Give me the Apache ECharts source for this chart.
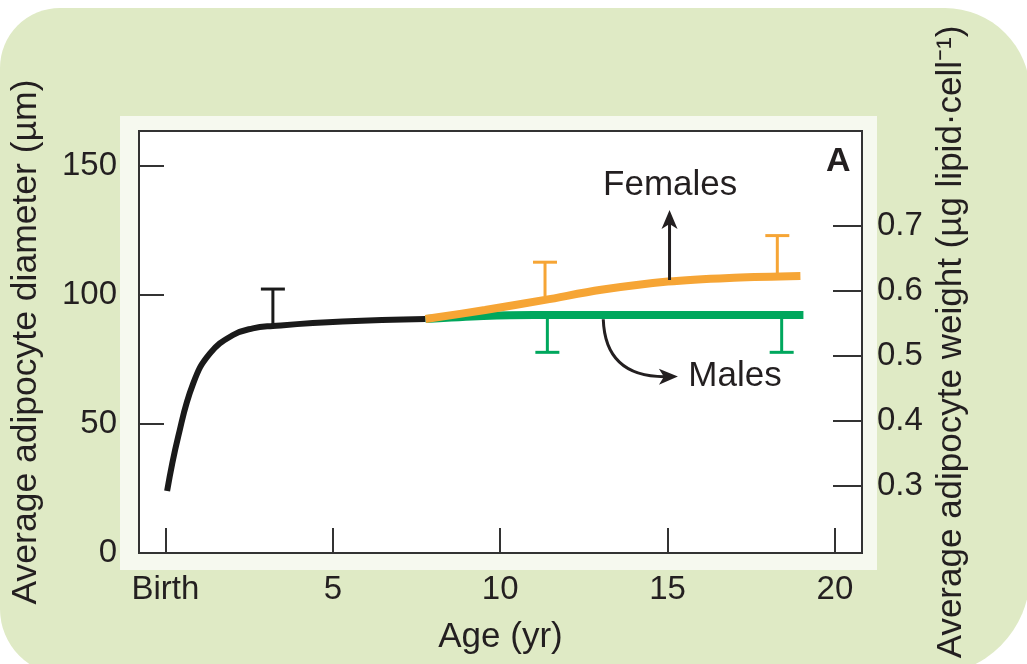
<!DOCTYPE html>
<html>
<head>
<meta charset="utf-8">
<script src="https://cdn.jsdelivr.net/npm/echarts@6/dist/echarts.min.js"></script>
<style>
html,body{margin:0;padding:0;background:#fff;}
#chart{width:1027px;height:664px;}
</style>
</head>
<body>
<div id="chart"></div>
<script>
// ---- data ----
const xTicks = [0, 5, 10, 15, 20];
const xTickLabels = ['Birth', '5', '10', '15', '20'];
const leftTicks = [0, 50, 100, 150];
const rightTicks = [0.3, 0.4, 0.5, 0.6, 0.7];

// shared curve: birth to ~8 yr  [age, diameter]
const commonCurve = [[0.05, 24], [0.38, 45], [0.83, 65.7], [1.33, 77.3], [2.02, 84.4], [2.61, 87], [3.21, 87.9], [5.29, 89.6], [7.77, 90.6]];
const femalesCurve = [[7.77, 90.6], [9.55, 94.1], [11.34, 98], [13.02, 101.9], [15.01, 105.1], [16.99, 106.6], [18.97, 107.3]];
const malesCurve = [[7.77, 90.6], [9.5, 91.8], [11, 92.2], [15, 92.2], [19.06, 92.2]];

// error bars [age, from, to]
const commonErr = [[3.21, 87.9, 102.2]];
const femalesErr = [[11.34, 98, 112.6], [18.28, 107.1, 122.9]];
const malesErr = [[11.41, 92.2, 77.7], [18.41, 92.2, 77.7]];

// annotation arrows [x1, y1, ctrlX, ctrlY, x2, y2]
const femalesArrow = [15.06, 105.7, 15.06, 119, 15.06, 132.8];
const malesArrow = [13.08, 90.5, 13.14, 68.2, 15.31, 68.3];

// annotation texts [age, diameter, text]
const textMarks = [[15.08, 142.5, 'Females'], [15.62, 68.3, 'Males'], [20.1, 151.4, 'A']];

const INK = '#231f20';
const ORANGE = '#f6a535';
const GREEN = '#00a75d';
const FONT = '"Liberation Sans", Arial, Helvetica, sans-serif';

function errRender(color) {
  return function (params, api) {
    const p1 = api.coord([api.value(0), api.value(1)]);
    const p2 = api.coord([api.value(0), api.value(2)]);
    const hw = 12;
    return {
      type: 'group',
      children: [
        {type: 'line', shape: {x1: p1[0], y1: p1[1], x2: p2[0], y2: p2[1]}, style: {stroke: color, lineWidth: 3}},
        {type: 'line', shape: {x1: p2[0] - hw, y1: p2[1], x2: p2[0] + hw, y2: p2[1]}, style: {stroke: color, lineWidth: 3}}
      ]
    };
  };
}

function arrowRender(params, api) {
  const p0 = api.coord([api.value(0), api.value(1)]);
  const c = api.coord([api.value(2), api.value(3)]);
  const p2 = api.coord([api.value(4), api.value(5)]);
  let dx = p2[0] - c[0], dy = p2[1] - c[1];
  const len = Math.sqrt(dx * dx + dy * dy) || 1;
  dx /= len; dy /= len;
  const L = 19, W = 16;
  const px = -dy, py = dx;
  const bx = p2[0] - dx * L, by = p2[1] - dy * L;
  const nx = p2[0] - dx * (L - 5), ny = p2[1] - dy * (L - 5);
  const ex = p2[0] - dx * (L - 6), ey = p2[1] - dy * (L - 6);
  return {
    type: 'group',
    children: [
      {type: 'bezierCurve', shape: {x1: p0[0], y1: p0[1], cpx1: c[0], cpy1: c[1], x2: ex, y2: ey}, style: {stroke: INK, lineWidth: 3, fill: null}},
      {type: 'polygon', shape: {points: [[p2[0], p2[1]], [bx + px * W / 2, by + py * W / 2], [nx, ny], [bx - px * W / 2, by - py * W / 2]]}, style: {fill: INK}}
    ]
  };
}

function textRender(params, api) {
  const p = api.coord([api.value(0), api.value(1)]);
  const i = params.dataIndex;
  const txt = textMarks[i][2];
  const isPanel = txt === 'A';
  return {
    type: 'text', x: p[0], y: p[1],
    style: {
      text: txt, fill: INK, fontFamily: FONT,
      fontSize: isPanel ? 34 : 35, fontWeight: isPanel ? 'bold' : 'normal',
      align: txt === 'Males' ? 'left' : 'center', verticalAlign: 'middle'
    }
  };
}

const chart = echarts.init(document.getElementById('chart'), null, {renderer: 'canvas'});
chart.setOption({
  animation: false,
  textStyle: {fontFamily: FONT, color: INK},
  graphic: [
    {type: 'rect', z: -100, shape: {x: 0, y: 8, width: 1030, height: 667, r: [60, 85, 100, 66]}, style: {fill: '#dfeac5'}},
    {type: 'rect', z: -99, shape: {x: 120, y: 116, width: 757, height: 454}, style: {fill: '#f6f9ef'}}
  ],
  grid: {left: 136, right: 165, top: 131, bottom: 111, show: true, backgroundColor: '#ffffff', borderColor: '#333', borderWidth: 2},
  xAxis: {
    type: 'value', min: -0.79, max: 20.81,
    name: 'Age (yr)', nameLocation: 'middle', nameGap: 67,
    nameTextStyle: {fontSize: 35, color: INK, fontFamily: FONT},
    axisLine: {show: true, onZero: false, lineStyle: {color: '#333', width: 2}},
    axisTick: {show: true, inside: true, length: 25, customValues: xTicks, lineStyle: {color: '#333', width: 2}},
    axisLabel: {customValues: xTicks, fontSize: 33, color: INK, margin: 20, formatter: function (v) { return xTickLabels[xTicks.indexOf(v)]; }},
    splitLine: {show: false}
  },
  yAxis: [
    {
      type: 'value', min: 0, max: 163.4, position: 'left',
      name: 'Average adipocyte diameter (µm)', nameLocation: 'middle', nameGap: 95, nameRotate: 90,
      nameTextStyle: {fontSize: 35.5, color: INK, fontFamily: FONT},
      axisLine: {show: true, onZero: false, lineStyle: {color: '#333', width: 2}},
      axisTick: {show: true, inside: true, length: 25, customValues: leftTicks.slice(1), lineStyle: {color: '#333', width: 2}},
      axisLabel: {customValues: leftTicks, fontSize: 33, color: INK, margin: 22},
      splitLine: {show: false}
    },
    {
      type: 'value', min: 0.197, max: 0.845, position: 'right',
      name: 'Average adipocyte weight (µg lipid·cell⁻¹)', nameLocation: 'middle', nameGap: 70, nameRotate: 90,
      nameTextStyle: {fontSize: 35, color: INK, fontFamily: FONT},
      axisLine: {show: true, onZero: false, lineStyle: {color: '#333', width: 2}},
      axisTick: {show: true, inside: true, length: 29, customValues: rightTicks, lineStyle: {color: '#333', width: 2}},
      axisLabel: {customValues: rightTicks, fontSize: 33, color: INK, margin: 15, formatter: function (v) { return v.toFixed(1); }},
      splitLine: {show: false}
    }
  ],
  series: [
    {type: 'line', data: commonCurve, smooth: 0.45, showSymbol: false, lineStyle: {color: '#1a1a1a', width: 6, cap: 'butt'}, z: 3},
    {type: 'line', data: malesCurve, smooth: 0.35, showSymbol: false, lineStyle: {color: GREEN, width: 8, cap: 'butt'}, z: 4},
    {type: 'line', data: femalesCurve, smooth: 0.35, showSymbol: false, lineStyle: {color: ORANGE, width: 8, cap: 'butt'}, z: 5},
    {type: 'custom', data: commonErr, renderItem: errRender('#1a1a1a'), z: 2, silent: true},
    {type: 'custom', data: femalesErr, renderItem: errRender(ORANGE), z: 2, silent: true},
    {type: 'custom', data: malesErr, renderItem: errRender(GREEN), z: 2, silent: true},
    {type: 'custom', data: [femalesArrow, malesArrow], renderItem: arrowRender, z: 6, silent: true, clip: false},
    {type: 'custom', data: textMarks.map(function (t) { return [t[0], t[1]]; }), renderItem: textRender, z: 7, silent: true, clip: false}
  ]
});
</script>
</body>
</html>
